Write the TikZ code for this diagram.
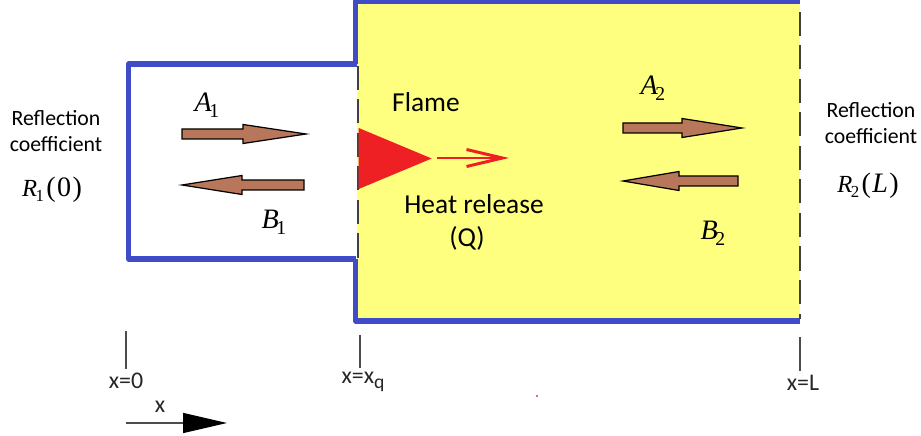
\documentclass[tikz,border=0pt]{standalone}
\usepackage{fontspec}
\setmainfont{Carlito}
\newfontfamily\wvfont{Liberation Serif}
\usepackage{xcolor}
\usetikzlibrary{arrows.meta,shapes.geometric}
\definecolor{ductblue}{RGB}{64,75,200}
\definecolor{gasyellow}{RGB}{255,255,127}
\definecolor{wavebrown}{RGB}{184,119,90}
\definecolor{flamered}{RGB}{238,32,36}
\tikzset{
  duct/.style={draw=ductblue,line width=1.45pt,line join=round},
  open/.style={black!75,line width=0.55pt,dash pattern=on 0.24cm off 0.095cm},
  wave/.style={draw=black,line width=0.35pt,fill=wavebrown,line join=miter},
  lbl/.style={font=\fontsize{6.2}{7.4}\selectfont,align=center,inner sep=0.5pt},
  lblb/.style={font=\fontsize{7.8}{9}\selectfont,inner sep=0.5pt},
  sym/.style={inner sep=0pt},
  tick/.style={black!70,line width=0.35pt},
  ticklbl/.style={font=\fontsize{6.8}{8}\selectfont,inner sep=1pt,text=black!85},
  heat/.style={flamered,line width=0.85pt,-{Straight Barb[length=0.36cm,width=0.17cm]}},
  dirn/.style={black!70,line width=0.4pt,-{Stealth[length=0.44cm,width=0.2cm,inset=0pt,fill=black,color=black]}}
}
\newcommand{\wvarrow}[4]{\draw[wave] (#1,#2-0.05) -- (#3,#2-0.05) -- (#3,#2-0.095) -- (#4,#2) -- (#3,#2+0.095) -- (#3,#2+0.05) -- (#1,#2+0.05) -- cycle;}
\newcommand{\amp}[2]{{\wvfont\fontsize{8}{8}\selectfont\itshape #1\kern-0.7pt\raisebox{-1.6pt}{\upshape\fontsize{5.6}{6}\selectfont #2}}}
\newcommand{\refl}[2]{{\wvfont\fontsize{7}{8}\selectfont\textit{R}\kern-0.4pt\raisebox{-1.3pt}{\fontsize{4.8}{6}\selectfont #1}\kern0.6pt\fontsize{8}{8}\selectfont(\kern0.4pt#2\kern0.4pt)}}
\begin{document}
\begin{tikzpicture}
\useasboundingbox (0,0) rectangle (9.21,4.36);
\fill[gasyellow] (3.57,4.34) rectangle (8.00,1.17);
\draw[duct] (3.57,3.72) -- (1.285,3.72) -- (1.285,1.77) -- (3.555,1.77);
\draw[duct] (3.555,3.72) -- (3.555,4.35) -- (8.00,4.35);
\draw[duct] (3.555,1.77) -- (3.555,1.15) -- (8.00,1.15);
\draw[open] (3.58,3.70) -- (3.58,1.78);
\draw[open] (8.00,4.24) -- (8.00,1.17);

\node[isosceles triangle,isosceles triangle stretches,fill=flamered,inner sep=0pt,minimum width=0.61cm,minimum height=0.73cm,anchor=lower side] (flame) at (3.58,2.775) {};
\coordinate (heatstart) at (4.37,2.78);
\coordinate (heatend) at (5.09,2.78);
\draw[heat] (heatstart) -- (heatend);

\wvarrow{1.82}{3.02}{2.43}{3.06}
\wvarrow{3.04}{2.51}{2.42}{1.82}
\wvarrow{6.23}{3.08}{6.82}{7.42}
\wvarrow{7.38}{2.55}{6.79}{6.23}

\node[sym] (a1lbl) at (2.07,3.31) {\amp{A}{1}};
\node[sym] (b1lbl) at (2.74,2.14) {\amp{B}{1}};
\node[sym] (a2lbl) at (6.53,3.48) {\amp{A}{2}};
\node[sym] (b2lbl) at (7.13,2.03) {\amp{B}{2}};

\node[lblb] (flamelbl) at (4.26,3.34) {Flame};
\node[lblb] (heatlbl) at (4.74,2.32) {Heat release};
\node[lblb] (qlbl) at (4.67,1.98) {(Q)};

\node[lbl] (refl1) at (0.56,3.05) {Reflection\\coefficient};
\node[lbl] (refl2) at (8.71,3.13) {Reflection\\coefficient};
\node[sym] (r1lbl) at (0.52,2.46) {\refl{1}{0}};
\node[sym] (r2lbl) at (8.68,2.50) {\refl{2}{\textit{L}}};

\node[ticklbl] (x0) at (1.26,0.55) {x=0};
\node[ticklbl] (xq) at (3.63,0.54) {x=x\raisebox{-1.3pt}{\fontsize{5.6}{6}\selectfont q}};
\node[ticklbl] (xl) at (8.03,0.53) {x=L};
\coordinate (x0top) at (1.26,1.05);
\coordinate (xqtop) at (3.60,1.01);
\coordinate (xltop) at (8.00,0.99);
\draw[tick] (x0top) -- (x0);
\draw[tick] (xqtop) -- (xq.north-|xqtop);
\draw[tick] (xltop) -- (xl.north-|xltop);

\node[ticklbl] (xdir) at (1.60,0.29) {x};
\coordinate (dirstart) at (1.26,0.13);
\coordinate (dirend) at (2.27,0.13);
\draw[dirn] (dirstart) -- (dirend);
\fill[flamered!70] (5.36,0.39) rectangle +(0.02,0.02);
\end{tikzpicture}
\end{document}
